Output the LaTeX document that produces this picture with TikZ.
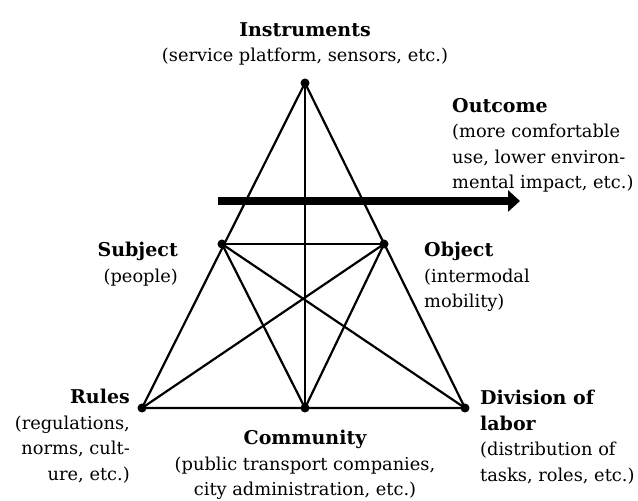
\documentclass[tikz,border=0pt]{standalone}
\usepackage{fontspec}
\setmainfont{DejaVu Serif}
\usetikzlibrary{arrows.meta}
\newcommand{\hd}[1]{{\fontsize{19}{25.5}\selectfont\bfseries #1}}
\begin{document}
\begin{tikzpicture}[x=1pt,y=1pt,
  vert/.style={circle,fill=black,inner sep=0pt,minimum size=9pt},
  edge/.style={line width=2.2pt},
  lbl/.style={inner sep=0pt,font=\fontsize{17.8}{25.5}\selectfont},
  bigarrow/.style={line width=8pt,-{Triangle[length=12pt,width=21pt]}}]
\useasboundingbox (0,0) rectangle (638,501);
\coordinate (T) at (305,418);
\coordinate (S) at (222,257);
\coordinate (O) at (384,257);
\coordinate (R) at (142,93);
\coordinate (C) at (305,93);
\coordinate (D) at (465,93);
\draw[edge] (T) -- (R) -- (D) -- cycle;
\draw[edge] (S) -- (O);
\draw[edge] (T) -- (C);
\draw[edge] (S) -- (C) -- (O);
\draw[edge] (S) -- (D);
\draw[edge] (O) -- (R);
\foreach \p in {T,S,O,R,C,D} \node[vert] at (\p) {};
\coordinate (a1) at (218,300);
\coordinate (a2) at (520,300);
\draw[bigarrow] (a1) -- (a2);
\node[lbl,anchor=north,align=center] (instr) at (305,479) {\hd{Instruments}\\(service platform, sensors, etc.)};
\node[lbl,anchor=north west,align=left] (outc) at (452,403) {\hd{Outcome}\\(more comfortable\\use, lower environ-\\mental impact, etc.)};
\node[lbl,anchor=north east,align=right] (subj) at (178,259) {\hd{Subject}\\(people)};
\node[lbl,anchor=north west,align=left] (obj) at (424,259) {\hd{Object}\\(intermodal\\mobility)};
\node[lbl,anchor=north east,align=right] (rules) at (130,112) {\hd{Rules}\\(regulations,\\norms, cult-\\ure, etc.)};
\node[lbl,anchor=north,align=center] (comm) at (305,71) {\hd{Community}\\(public transport companies,\\city administration, etc.)};
\node[lbl,anchor=north west,align=left] (div) at (480,111) {\hd{Division of}\\\hd{labor}\\(distribution of\\tasks, roles, etc.)};
\end{tikzpicture}
\end{document}
